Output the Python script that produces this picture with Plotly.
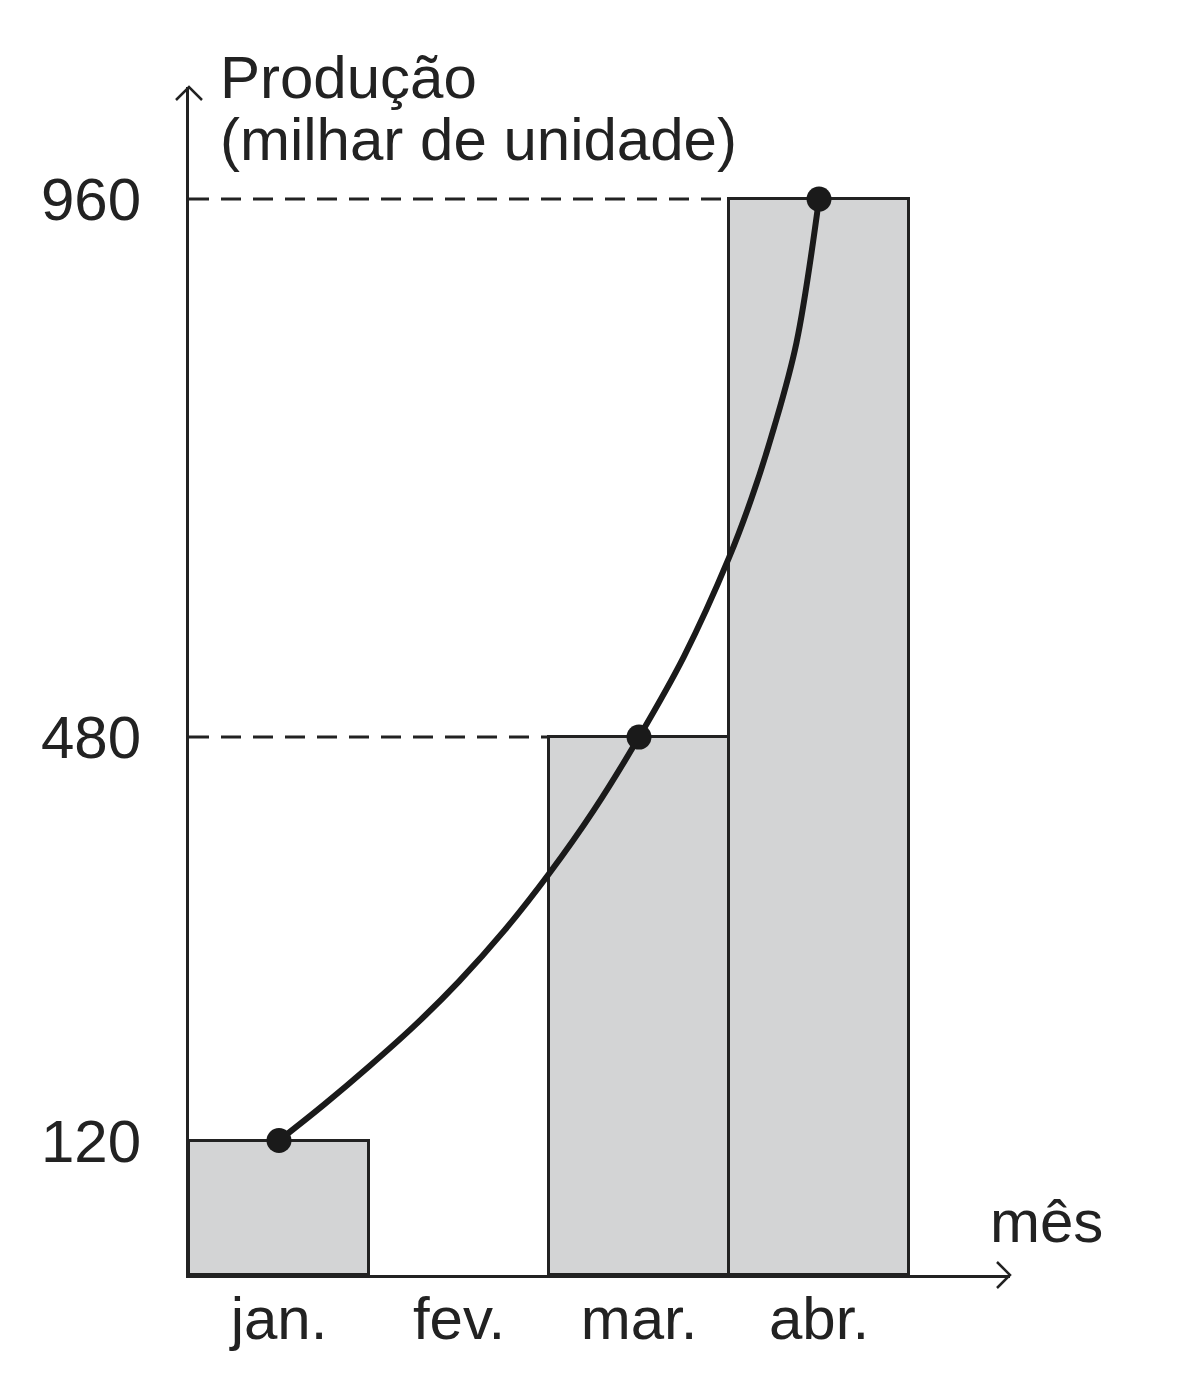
import plotly.graph_objects as go

# Data
months = ["jan.", "fev.", "mar.", "abr."]
production = [120, None, 480, 960]          # bar heights (milhar de unidade); fev has no bar
ytick_values = [120, 480, 960]

# smooth trend curve, sampled along the drawn line (month index, value)
curve_t = [0, 0.25, 0.5, 0.75, 1.0, 1.25, 1.5, 1.75, 2.0, 2.25, 2.5, 2.625, 2.75, 2.875, 3.0]
curve_v = [120, 152, 186, 222, 262, 307, 358, 415, 480, 552, 640, 693, 756, 832, 960]

# dots drawn on the curve
dot_t = [0, 2, 3]
dot_v = [120, 480, 960]

ink = "#222222"
font_family = "Liberation Sans, Arial, sans-serif"

x_pos = list(range(len(months)))

fig = go.Figure()

# bars
fig.add_trace(go.Bar(
    x=x_pos, y=production, width=1,
    marker=dict(color="#d3d4d5", line=dict(color=ink, width=3)),
    hoverinfo="skip",
))

# dashed guide lines from the axis to the left edge of the bar that reaches the value
for v in [480, 960]:
    i = production.index(v)
    fig.add_trace(go.Scatter(
        x=[-0.5, x_pos[i] - 0.5], y=[v, v], mode="lines",
        line=dict(color=ink, width=3, dash="20px,12px"),
        hoverinfo="skip",
    ))

# curve
fig.add_trace(go.Scatter(
    x=curve_t, y=curve_v, mode="lines",
    line=dict(color="#1a1a1a", width=6, shape="spline", smoothing=1.0),
    hoverinfo="skip",
))
fig.add_trace(go.Scatter(
    x=dot_t, y=dot_v, mode="markers",
    marker=dict(color="#1a1a1a", size=25),
    hoverinfo="skip", cliponaxis=False,
))

# axis arrow heads (open chevrons)
fig.add_shape(type="path", xref="paper", yref="paper",
              xsizemode="pixel", ysizemode="pixel", xanchor=1, yanchor=0,
              path="M -13,13 L 0,0 L -13,-13", line=dict(color=ink, width=2.5))
fig.add_shape(type="path", xref="paper", yref="paper",
              xsizemode="pixel", ysizemode="pixel", xanchor=0, yanchor=1,
              path="M -13,-13 L 0,0 L 13,-13", line=dict(color=ink, width=2.5))

# axis titles
fig.add_annotation(text="Produção", xref="paper", yref="paper", x=0.035, y=1.008,
                   xanchor="left", yanchor="middle", showarrow=False,
                   font=dict(size=60, color=ink, family=font_family))
fig.add_annotation(text="(milhar de unidade)", xref="paper", yref="paper", x=0.035, y=0.956,
                   xanchor="left", yanchor="middle", showarrow=False,
                   font=dict(size=60, color=ink, family=font_family))
fig.add_annotation(text="mês", xref="paper", yref="paper", x=0.973, y=0.045,
                   xanchor="left", yanchor="middle", showarrow=False,
                   font=dict(size=60, color=ink, family=font_family))

fig.update_layout(
    width=1200, height=1381,
    margin=dict(l=181, r=198, t=79, b=114),
    plot_bgcolor="white", paper_bgcolor="white",
    showlegend=False, bargap=0,
    font=dict(family=font_family, size=60, color=ink),
    xaxis=dict(
        range=[-0.5, 4.061], tickvals=x_pos, ticktext=months,
        showgrid=False, zeroline=False, showline=True, linecolor=ink, linewidth=3,
        ticks="", ticklabelstandoff=-11,
    ),
    yaxis=dict(
        range=[0, 1060], tickvals=ytick_values,
        showgrid=False, zeroline=False, showline=True, linecolor=ink, linewidth=3,
        ticks="", ticklabelstandoff=33,
    ),
)

fig.write_html("out.html")
